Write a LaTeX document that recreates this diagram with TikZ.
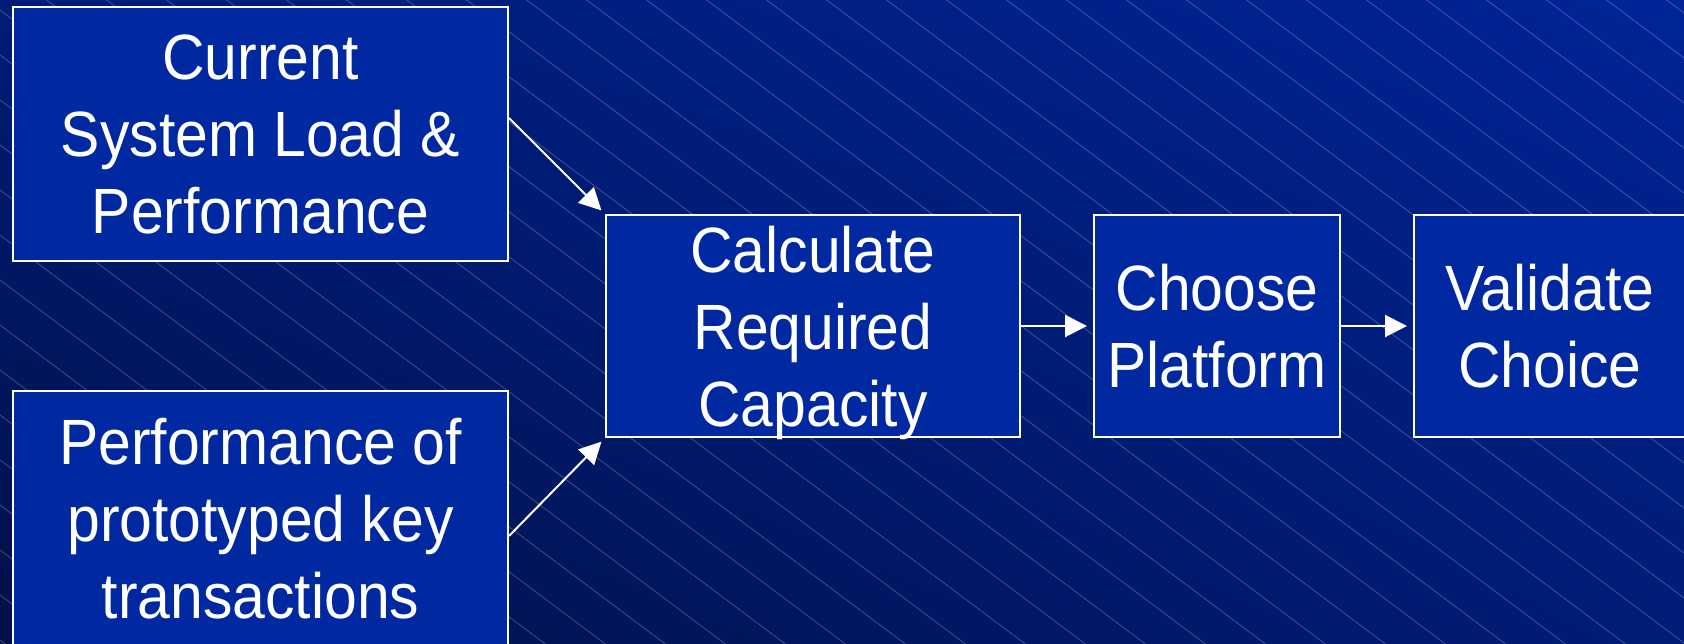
\documentclass[tikz,border=0pt]{standalone}
\usepackage{fontspec}
\setmainfont[FakeStretch=0.92]{Liberation Sans}
\usepackage{tikz}
\usetikzlibrary{
  arrows.meta,
  shadings,
  }
\definecolor{boxblue}{RGB}{0,40,160}
\definecolor{bgdark}{RGB}{2,16,72}
\definecolor{bgmid}{RGB}{0,28,118}
\definecolor{bglight}{RGB}{0,36,150}

\begin{document}
\begin{tikzpicture}
                [x=1pt, y=-1pt,
                 box/.style={draw=white, line width=2pt, fill=boxblue, text=white, align=center,
                             inner sep=0pt, text depth=0pt, font=\fontsize{64}{77}\selectfont},
                 flow/.style={draw=white, line width=2pt, -{Triangle[length=22pt,width=22pt]}},
                 hatch/.style={white, opacity=.25, line width=.8pt}]
                \useasboundingbox (0,0) rectangle (1684,643);
                \clip (0,0) rectangle (1684,643);
                \shade[lower left=bgdark, upper left=bgmid, lower right=bgmid, upper right=bglight]
                    (0,0) rectangle (1684,643);
                \foreach \k in {-28,...,14}
                    \draw[hatch] (0,{10+45*\k}) -- (1684,{1273+45*\k});

                \node[box, minimum width=495, minimum height=254] (cur) at (260.5, 134) {Current\\System Load \&\\Performance};
                \node[box, minimum width=495, minimum height=254] (proto) at (260.5, 518) {Performance of\\prototyped key\\transactions};
                \node[box, minimum width=414, minimum height=222] (calc) at (813, 326) {Calculate\\Required\\Capacity};
                \node[box, minimum width=246, minimum height=222] (choose) at (1217, 326) {Choose\\Platform};
                \node[box, minimum width=272, minimum height=222] (valid) at (1550, 326) {Validate\\Choice};

                \draw[flow, shorten >=5pt] ([yshift=16pt]cur.east) -- (calc.north west);
                \draw[flow, shorten >=5pt] ([yshift=-18pt]proto.east) -- (calc.south west);
                \foreach \from\to in {calc/choose,choose/valid}
                    \draw[flow, shorten >=6pt] (\from) -- (\to);

            \end{tikzpicture}
\end{document}
